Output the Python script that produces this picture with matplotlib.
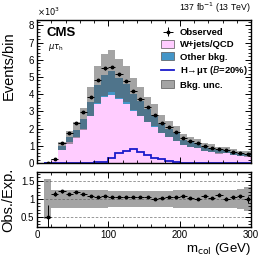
import numpy as np
import matplotlib
matplotlib.use("Agg")
from matplotlib import pyplot as plt
from matplotlib.patches import Patch
from matplotlib.lines import Line2D
from matplotlib.ticker import AutoMinorLocator, MultipleLocator

plt.rcParams['font.family'] = ['Liberation Sans', 'DejaVu Sans']

# bins of m_col (GeV), 10 GeV wide from 10 to 300
edges = np.arange(10, 301, 10)
centers = edges[:-1] + 5

# events per bin, in units of 10^3
observed = [0.02, 0.23, 1.19, 1.74, 2.32, 2.94, 3.84, 4.83, 5.50, 5.58,
            5.15, 4.78, 4.20, 3.74, 3.26, 2.77, 2.32, 2.07, 1.80, 1.48,
            1.29, 1.15, 1.01, 0.90, 0.82, 0.76, 0.66, 0.57, 0.51]
observed_err = [0.013, 0.015, 0.035, 0.042, 0.048, 0.054, 0.062, 0.070, 0.074, 0.075,
                0.072, 0.069, 0.065, 0.061, 0.057, 0.053, 0.048, 0.045, 0.042, 0.038,
                0.036, 0.034, 0.032, 0.030, 0.029, 0.028, 0.026, 0.024, 0.050]
wjets_qcd = [0.03, 0.15, 0.78, 1.22, 1.52, 1.98, 2.72, 3.45, 3.85, 3.98,
             3.70, 3.45, 3.05, 2.72, 2.38, 2.12, 1.72, 1.50, 1.30, 1.03,
             0.93, 0.86, 0.71, 0.67, 0.56, 0.57, 0.48, 0.40, 0.39]
other_bkg = [0.01, 0.05, 0.20, 0.29, 0.41, 0.58, 0.84, 1.11, 1.24, 1.36,
             1.23, 1.12, 0.97, 0.86, 0.74, 0.68, 0.56, 0.48, 0.42, 0.33,
             0.31, 0.28, 0.22, 0.21, 0.17, 0.18, 0.15, 0.13, 0.12]
signal = [0.01, 0.01, 0.01, 0.01, 0.01, 0.02, 0.03, 0.04, 0.04, 0.27,
          0.57, 0.68, 0.80, 0.66, 0.47, 0.31, 0.23, 0.13, 0.05, 0.03,
          0.02, 0.01, 0.01, 0.01, 0.01, 0.0, 0.0, 0.0, 0.0]
# relative background uncertainty
bkg_unc = [0.55, 0.25, 0.25, 0.25, 0.25, 0.25, 0.24, 0.24, 0.24, 0.23,
           0.23, 0.23, 0.23, 0.23, 0.23, 0.23, 0.23, 0.23, 0.24, 0.24,
           0.24, 0.24, 0.24, 0.25, 0.25, 0.25, 0.26, 0.28, 0.33]

obs = np.array(observed)
obs_err = np.array(observed_err)
pink = np.array(wjets_qcd)
total = pink + np.array(other_bkg)
unc = np.array(bkg_unc)

fig = plt.figure(figsize=(2.66, 2.58), dpi=100)
ax = fig.add_axes([0.139, 0.368, 0.805, 0.554])
rax = fig.add_axes([0.139, 0.120, 0.805, 0.213])

c_pink = '#ffccff'
c_blue = '#4496c8'
c_unc = (0.35, 0.35, 0.35, 0.55)
c_sig = '#1a1acc'

ax.stairs(pink, edges, fill=True, color=c_pink)
ax.stairs(total, edges, baseline=pink, fill=True, color=c_blue)
ax.stairs(total * (1 + unc), edges, baseline=total * (1 - unc), fill=True, color=c_unc, lw=0)
ax.stairs(np.array(signal), edges, color=c_sig, lw=1.3)
eb = ax.errorbar(centers, obs, yerr=obs_err, xerr=5, fmt='o', color='black',
                 ms=1.8, lw=0.7, capsize=0)

ax.set_xlim(0, 300)
ax.set_ylim(0, 8.3)
ax.set_ylabel('Events/bin', fontsize=10.5, loc='top')
ax.yaxis.set_label_coords(-0.1, 0.92)
ax.yaxis.set_major_locator(MultipleLocator(1))
ax.xaxis.set_major_locator(MultipleLocator(100))
for a in (ax, rax):
    a.xaxis.set_minor_locator(AutoMinorLocator(5))
    a.yaxis.set_minor_locator(AutoMinorLocator(5))
    a.tick_params(which='both', direction='in', top=True, right=True, labelsize=7, pad=2)
    a.tick_params(which='major', length=4, width=0.7)
    a.tick_params(which='minor', length=2, width=0.6)
    for s in a.spines.values():
        s.set_linewidth(1.0)
ax.tick_params(labelbottom=False)

ax.text(0.0, 1.015, r'$\times10^3$', transform=ax.transAxes, fontsize=6, va='bottom')
ax.text(1.0, 1.035, r'137 fb$^{-1}$ (13 TeV)', transform=ax.transAxes, fontsize=6.3,
        ha='right', va='bottom')
ax.text(0.045, 0.955, 'CMS', transform=ax.transAxes, fontsize=9.5, fontweight='bold',
        va='top')
ax.text(0.05, 0.845, r'$\mu\tau_{\rm h}$', transform=ax.transAxes, fontsize=6, va='top')

handles = [eb,
           Patch(facecolor=c_pink, edgecolor='#555555', lw=0.5),
           Patch(facecolor=c_blue, edgecolor='#555555', lw=0.5),
           Line2D([], [], color=c_sig, lw=1.3),
           Patch(facecolor='#a4a4a4', edgecolor='#555555', lw=0.5)]
labels = ['Observed', 'W+jets/QCD', 'Other bkg.', 'H→μτ ($\\it{B}$=20%)', 'Bkg. unc.']
ax.legend(handles, labels, loc='upper left', bbox_to_anchor=(0.58, 0.945), frameon=False,
          handlelength=1.4, handleheight=0.95, handletextpad=0.55,
          labelspacing=0.3, borderpad=0, borderaxespad=0,
          prop={'weight': 'bold', 'size': 6.8})

# ratio panel
ratio = obs / total
ratio_err = obs_err / total
rax.stairs(1 + unc, edges, baseline=1 - unc, fill=True, color=c_unc, lw=0)
for yv in (0.5, 1.0, 1.5):
    rax.axhline(yv, color='#888888', lw=0.6, ls=(0, (3, 2)), zorder=0)
rax.errorbar(centers, ratio, yerr=ratio_err, xerr=5, fmt='o', color='black',
             ms=1.8, lw=0.7, capsize=0)
rax.set_xlim(0, 300)
rax.set_ylim(0.22, 1.75)
rax.set_yticks([0.5, 1, 1.5])
rax.set_yticklabels(['0.5', '1', '1.5'])
rax.xaxis.set_major_locator(MultipleLocator(100))
rax.set_ylabel('Obs./Exp.', fontsize=10.5)
rax.yaxis.set_label_coords(-0.1, 0.5)
rax.set_xlabel(r'm$_{\rm col}$ (GeV)', fontsize=9.5, loc='right', labelpad=1)

fig.savefig('out.png', dpi=100)
